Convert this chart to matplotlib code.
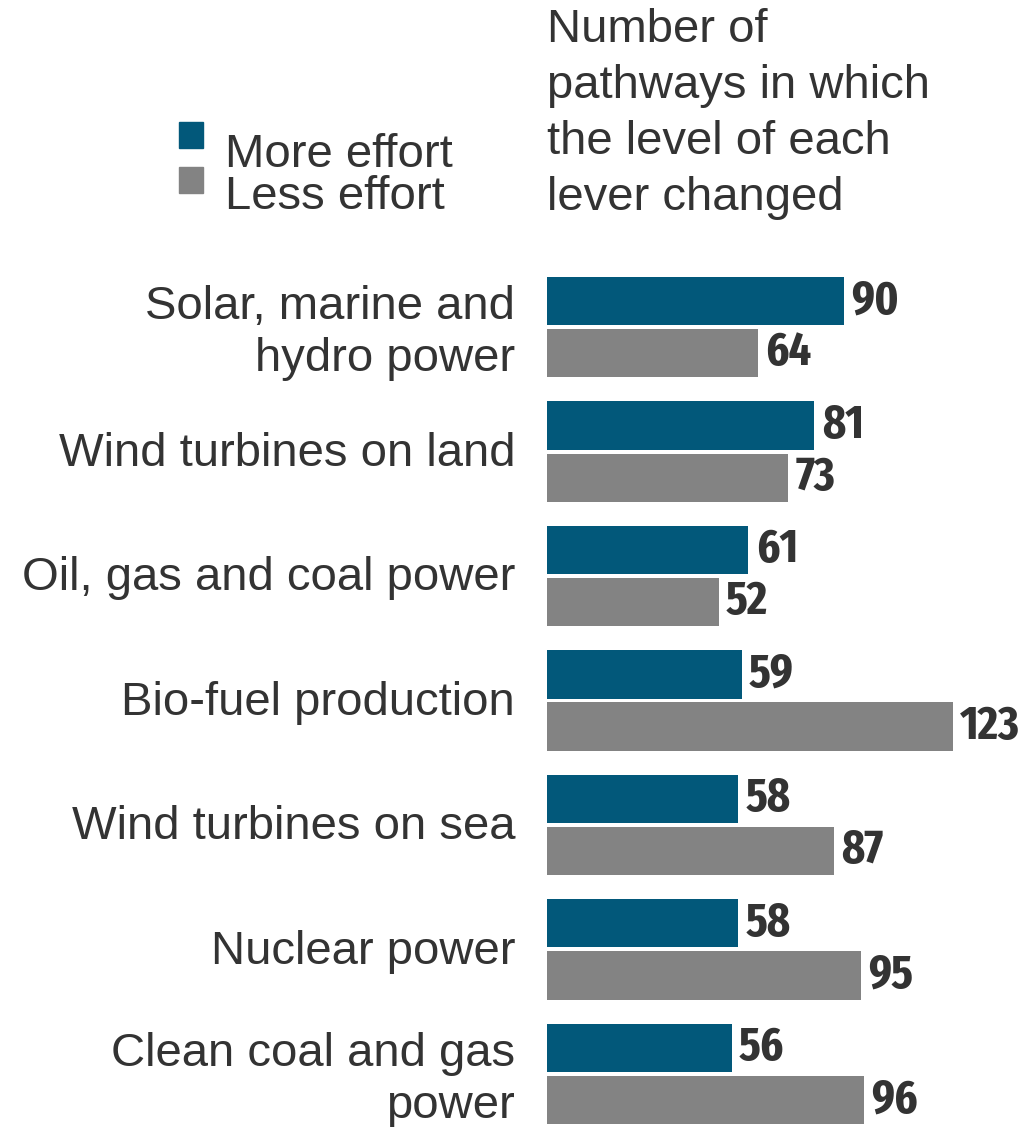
import matplotlib
matplotlib.use('Agg')
import matplotlib.pyplot as plt
from matplotlib import font_manager
import matplotlib.transforms as mtransforms
import numpy as np
from matplotlib.patches import Rectangle

plt.rcParams['font.family'] = ['Liberation Sans', 'DejaVu Sans']

levers = ['Solar, marine and\nhydro power', 'Wind turbines on land', 'Oil, gas and coal power',
          'Bio-fuel production', 'Wind turbines on sea', 'Nuclear power',
          'Clean coal and gas\npower']
more_effort = [90, 81, 61, 59, 58, 58, 56]
less_effort = [64, 73, 52, 123, 87, 95, 96]

blue = '#02587a'
grey = '#838383'
txt = '#333333'


def pick_narrow():
    # narrowest bold face we can find for the numbers
    best, best_score = None, -1
    for f in font_manager.fontManager.ttflist:
        n = (f.name + ' ' + f.fname).lower().replace('-', '').replace('_', '')
        if not ('condensed' in n or 'narrow' in n):
            continue
        if 'italic' in n or 'oblique' in n:
            continue
        score = 0
        if 'extracondensed' in n or 'ultracondensed' in n:
            score += 4
        elif 'semicondensed' in n:
            score += 1
        else:
            score += 2
        if 'dejavu' not in n:
            score += 1
        w = f.weight if isinstance(f.weight, int) else {'bold': 700, 'normal': 400}.get(f.weight, 400)
        if w == 700 or ('bold' in n and 'extrabold' not in n and 'semibold' not in n):
            score += 3
        if score > best_score:
            best, best_score = f, score
    return best


nf = pick_narrow()
is_dejavu = nf is None or 'dejavu' in nf.fname.lower()

fig = plt.figure(figsize=(10.29, 11.27), dpi=100)
ax = fig.add_axes([547 / 1029, 0, 482 / 1029, 857 / 1127])

y = np.arange(len(levers))
h = 0.386
off = 0.209
b1 = ax.barh(y - off, more_effort, height=h, color=blue)
b2 = ax.barh(y + off, less_effort, height=h, color=grey)

size = 24 if is_dejavu else 34.5
if nf is not None:
    num_font = dict(fontproperties=font_manager.FontProperties(fname=nf.fname, size=size), color=txt)
else:
    num_font = dict(fontsize=22, fontweight='bold', color=txt)
for bars, vals in ((b1, more_effort), (b2, less_effort)):
    for bar, v in zip(bars, vals):
        ax.text(v + 2.2, bar.get_y() + bar.get_height() / 2, str(v),
                ha='left', va='center', **num_font)

ax.set_xlim(0, 146)
ax.set_ylim(6.426, -0.458)
ax.set_yticks(y)
ax.set_yticklabels(levers, fontsize=34, color=txt, linespacing=1.24)
ax.tick_params(axis='y', length=0, pad=23)
ax.set_xticks([])
# lift the lever names a touch
lift = mtransforms.ScaledTranslation(0, 2 / 72, fig.dpi_scale_trans)
for lab in ax.get_yticklabels():
    lab.set_transform(lab.get_transform() + lift)
for s in ax.spines.values():
    s.set_visible(False)

# heading over the bars
fig.text(547 / 1029, 1 - 8 / 1127, 'Number of\npathways in which\nthe level of each\nlever changed',
         ha='left', va='top', fontsize=34, color=txt, linespacing=1.35)

# legend swatches and labels
for i, (lab, col) in enumerate((('More effort', blue), ('Less effort', grey))):
    top = 122 + i * 45
    fig.patches.append(Rectangle((179 / 1029, 1 - (top + 26) / 1127), 24 / 1029, 26 / 1127,
                                 transform=fig.transFigure, color=col))
    fig.text(225 / 1029, 1 - (top + 33 - i * 3) / 1127, lab, ha='left', va='center',
             fontsize=34, color=txt)

fig.savefig('out.png', dpi=100)
